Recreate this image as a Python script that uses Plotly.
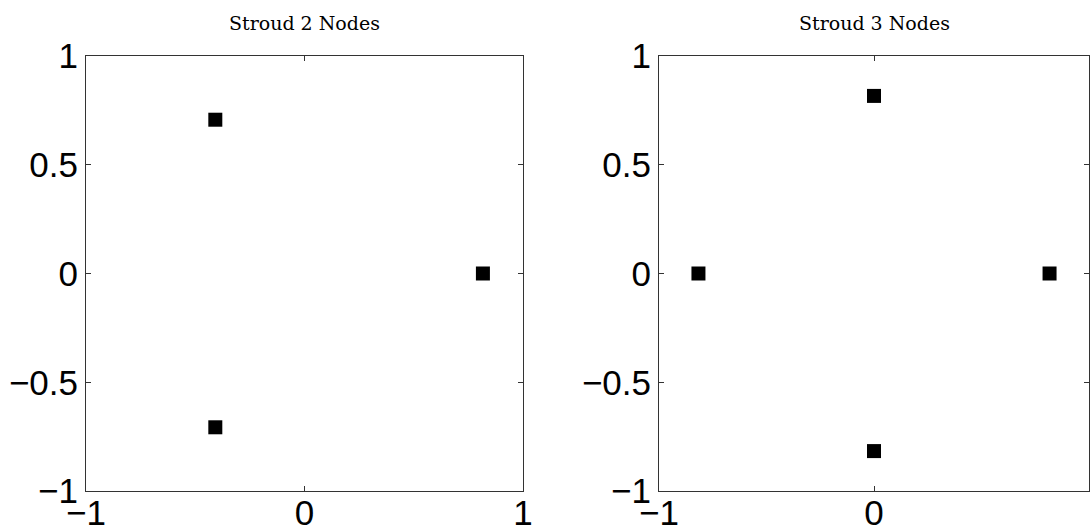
import plotly.graph_objects as go

# Stroud cubature nodes on the square [-1, 1]^2
titles = ["Stroud 2 Nodes", "Stroud 3 Nodes"]
stroud2_x = [-0.4082, -0.4082, 0.8165]
stroud2_y = [0.7071, -0.7071, 0.0]
stroud3_x = [-0.8165, 0.0, 0.0, 0.8165]
stroud3_y = [0.0, 0.8165, -0.8165, 0.0]
y_ticks = [-1, -0.5, 0, 0.5, 1]
y_tick_text = ["\u22121", "\u22120.5", "0", "0.5", "1"]
x_ticks = [-1, 0, 1]
x_tick_text = ["\u22121", "0", "1"]

W, H = 1090, 532
fig = go.Figure()

panels = [
    (stroud2_x, stroud2_y, "x", "y", (86, 523)),
    (stroud3_x, stroud3_y, "x2", "y2", (659, 1089)),
]
top_px, bottom_px = 56, 491

for i, (xs, ys, xa, ya, (left, right)) in enumerate(panels):
    fig.add_trace(go.Scatter(
        x=xs, y=ys, mode="markers", xaxis=xa, yaxis=ya,
        marker=dict(symbol="square", size=14, color="black",
                    line=dict(width=0)),
        showlegend=False, hoverinfo="skip",
    ))
    suffix = "" if i == 0 else str(i + 1)
    common = dict(
        showline=True, linecolor="#333333", linewidth=1, mirror="ticks",
        ticks="inside", ticklen=5, tickcolor="#333333", tickwidth=1,
        showgrid=False, zeroline=False, automargin=False,
        tickfont=dict(family="Liberation Sans, Arial", size=35, color="black"),
    )
    fig.update_layout({
        "xaxis" + suffix: dict(
            common, domain=[left / W, right / W], range=[-1, 1],
            tickvals=x_ticks, ticktext=x_tick_text,
            anchor="y" + suffix, ticklabelstandoff=-9,
        ),
        "yaxis" + suffix: dict(
            common, domain=[1 - bottom_px / H, 1 - top_px / H], range=[-1, 1],
            tickvals=y_ticks, ticktext=y_tick_text,
            anchor="x" + suffix,
        ),
    })
    fig.add_annotation(
        text=titles[i], xref="paper", yref="paper",
        x=(left + right) / 2 / W, y=1 - 23 / H,
        xanchor="center", yanchor="middle", showarrow=False,
        font=dict(family="DejaVu Serif", size=19, color="black"),
    )

fig.update_layout(
    width=W, height=H,
    margin=dict(l=0, r=0, t=0, b=0),
    paper_bgcolor="white", plot_bgcolor="white",
    template="none",
)

fig.write_html("out.html")
